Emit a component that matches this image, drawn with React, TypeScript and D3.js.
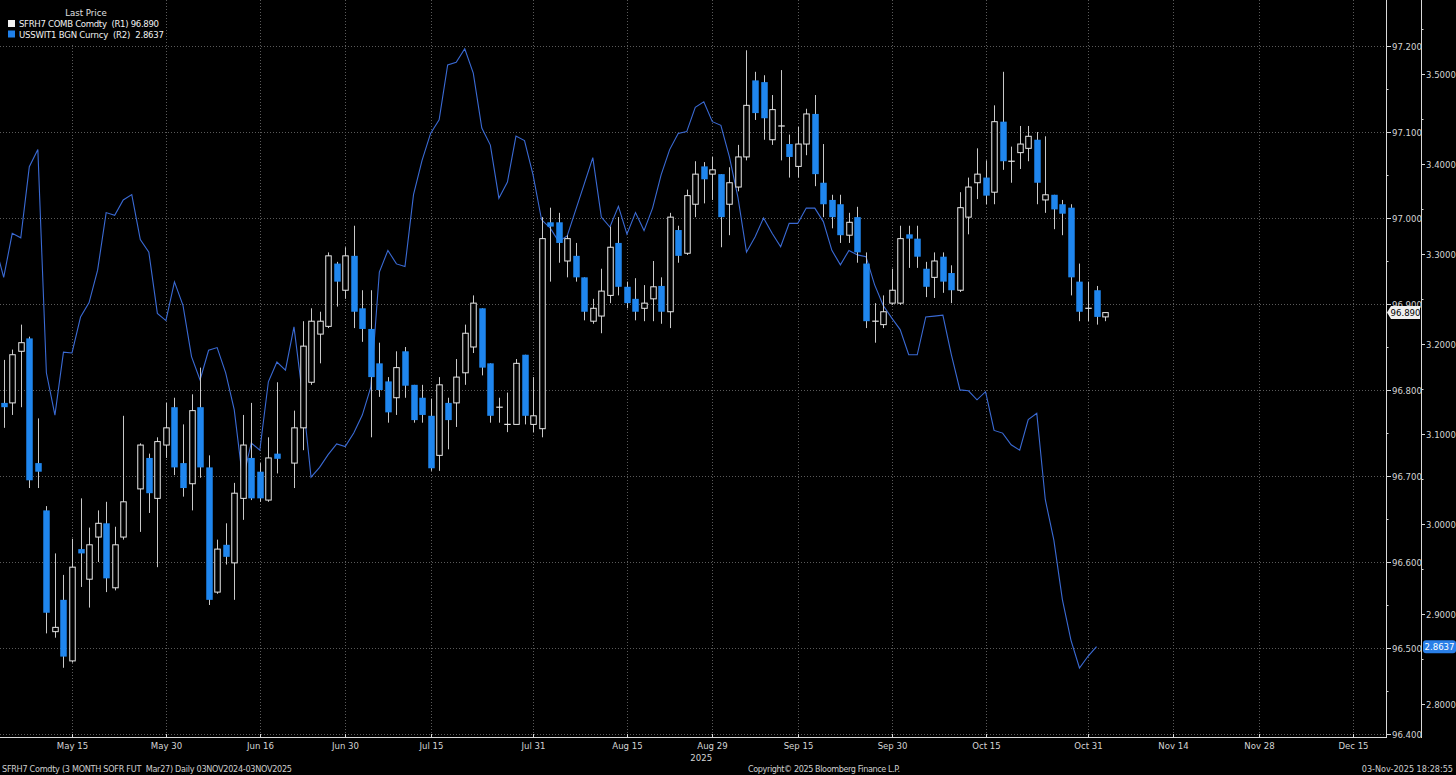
import React, { useEffect, useRef } from "react";
import * as d3 from "d3";

const W = 1456;
const H = 775;

// exchange holidays with no slot on the axis
const holidays = ["2025-07-04", "2025-09-01"];

const dateTicks = [
  "2025-05-15", "2025-05-30", "2025-06-16", "2025-06-30", "2025-07-15",
  "2025-07-31", "2025-08-15", "2025-08-29", "2025-09-15", "2025-09-30",
  "2025-10-15", "2025-10-31", "2025-11-14", "2025-11-28", "2025-12-15",
];
const dateTickLabels = [
  "May 15", "May 30", "Jun 16", "Jun 30", "Jul 15", "Jul 31", "Aug 15", "Aug 29",
  "Sep 15", "Sep 30", "Oct 15", "Oct 31", "Nov 14", "Nov 28", "Dec 15",
];
const r1Ticks = [96.4, 96.5, 96.6, 96.7, 96.8, 96.9, 97.0, 97.1, 97.2];
const r2Ticks = [2.8, 2.9, 3.0, 3.1, 3.2, 3.3, 3.4, 3.5];

// SFRH7 COMB Comdty daily bars: [date, open, high, low, close]
const sfrh7: [string, number, number, number, number][] = [
  ["2025-05-05", 96.785, 96.835, 96.756, 96.780],
  ["2025-05-06", 96.785, 96.847, 96.771, 96.841],
  ["2025-05-07", 96.845, 96.876, 96.780, 96.855],
  ["2025-05-08", 96.860, 96.862, 96.686, 96.695],
  ["2025-05-09", 96.715, 96.767, 96.686, 96.705],
  ["2025-05-12", 96.660, 96.665, 96.517, 96.541],
  ["2025-05-13", 96.519, 96.610, 96.512, 96.524],
  ["2025-05-14", 96.556, 96.585, 96.477, 96.490],
  ["2025-05-15", 96.485, 96.627, 96.483, 96.594],
  ["2025-05-16", 96.615, 96.674, 96.571, 96.610],
  ["2025-05-19", 96.580, 96.640, 96.547, 96.620],
  ["2025-05-20", 96.629, 96.660, 96.600, 96.645],
  ["2025-05-21", 96.645, 96.670, 96.565, 96.581],
  ["2025-05-22", 96.570, 96.641, 96.567, 96.620],
  ["2025-05-23", 96.629, 96.770, 96.626, 96.670],
  ["2025-05-27", 96.685, 96.738, 96.635, 96.736],
  ["2025-05-28", 96.721, 96.726, 96.657, 96.680],
  ["2025-05-29", 96.674, 96.745, 96.594, 96.740],
  ["2025-05-30", 96.736, 96.785, 96.721, 96.756],
  ["2025-06-02", 96.780, 96.791, 96.701, 96.710],
  ["2025-06-03", 96.715, 96.760, 96.676, 96.686],
  ["2025-06-04", 96.691, 96.795, 96.660, 96.776],
  ["2025-06-05", 96.780, 96.826, 96.698, 96.710],
  ["2025-06-06", 96.710, 96.724, 96.550, 96.556],
  ["2025-06-09", 96.565, 96.626, 96.563, 96.615],
  ["2025-06-10", 96.620, 96.645, 96.597, 96.606],
  ["2025-06-11", 96.599, 96.692, 96.556, 96.680],
  ["2025-06-12", 96.674, 96.771, 96.649, 96.736],
  ["2025-06-13", 96.721, 96.785, 96.672, 96.674],
  ["2025-06-16", 96.705, 96.715, 96.670, 96.674],
  ["2025-06-17", 96.672, 96.745, 96.670, 96.721],
  ["2025-06-18", 96.726, 96.809, 96.703, 96.720],
  ["2025-06-20", 96.715, 96.776, 96.686, 96.756],
  ["2025-06-23", 96.756, 96.880, 96.730, 96.851],
  ["2025-06-24", 96.809, 96.895, 96.806, 96.880],
  ["2025-06-25", 96.865, 96.891, 96.831, 96.880],
  ["2025-06-26", 96.874, 96.960, 96.872, 96.956],
  ["2025-06-27", 96.947, 96.949, 96.897, 96.926],
  ["2025-06-30", 96.916, 96.966, 96.906, 96.956],
  ["2025-07-01", 96.956, 96.991, 96.872, 96.891],
  ["2025-07-02", 96.895, 96.916, 96.856, 96.871],
  ["2025-07-03", 96.871, 96.916, 96.745, 96.815],
  ["2025-07-07", 96.831, 96.855, 96.792, 96.800],
  ["2025-07-08", 96.810, 96.815, 96.762, 96.774],
  ["2025-07-09", 96.791, 96.845, 96.771, 96.826],
  ["2025-07-10", 96.845, 96.850, 96.791, 96.805],
  ["2025-07-11", 96.806, 96.806, 96.762, 96.765],
  ["2025-07-14", 96.791, 96.806, 96.762, 96.771],
  ["2025-07-15", 96.770, 96.790, 96.706, 96.709],
  ["2025-07-16", 96.724, 96.815, 96.706, 96.806],
  ["2025-07-17", 96.785, 96.791, 96.731, 96.765],
  ["2025-07-18", 96.785, 96.836, 96.757, 96.815],
  ["2025-07-21", 96.820, 96.876, 96.806, 96.866],
  ["2025-07-22", 96.850, 96.910, 96.843, 96.901],
  ["2025-07-23", 96.895, 96.895, 96.817, 96.826],
  ["2025-07-24", 96.831, 96.831, 96.762, 96.770],
  ["2025-07-25", 96.780, 96.791, 96.762, 96.780],
  ["2025-07-28", 96.760, 96.797, 96.751, 96.760],
  ["2025-07-29", 96.760, 96.836, 96.760, 96.831],
  ["2025-07-30", 96.841, 96.841, 96.760, 96.770],
  ["2025-07-31", 96.760, 96.815, 96.751, 96.770],
  ["2025-08-01", 96.755, 97.001, 96.745, 96.976],
  ["2025-08-04", 96.995, 97.012, 96.926, 96.990],
  ["2025-08-05", 96.995, 97.006, 96.948, 96.971],
  ["2025-08-06", 96.950, 96.980, 96.931, 96.976],
  ["2025-08-07", 96.956, 96.971, 96.926, 96.931],
  ["2025-08-08", 96.931, 96.931, 96.881, 96.891],
  ["2025-08-11", 96.880, 96.906, 96.877, 96.895],
  ["2025-08-12", 96.886, 96.941, 96.866, 96.915],
  ["2025-08-13", 96.910, 96.990, 96.901, 96.966],
  ["2025-08-14", 96.971, 97.001, 96.910, 96.920],
  ["2025-08-15", 96.920, 96.926, 96.895, 96.901],
  ["2025-08-18", 96.906, 96.930, 96.881, 96.891],
  ["2025-08-19", 96.895, 96.922, 96.880, 96.901],
  ["2025-08-20", 96.906, 96.950, 96.880, 96.920],
  ["2025-08-21", 96.921, 96.931, 96.877, 96.891],
  ["2025-08-22", 96.891, 97.006, 96.872, 97.001],
  ["2025-08-25", 96.986, 96.991, 96.948, 96.956],
  ["2025-08-26", 96.959, 97.033, 96.957, 97.026],
  ["2025-08-27", 97.016, 97.066, 97.001, 97.051],
  ["2025-08-28", 97.060, 97.065, 97.017, 97.045],
  ["2025-08-29", 97.051, 97.071, 97.021, 97.056],
  ["2025-09-02", 97.051, 97.051, 96.966, 97.001],
  ["2025-09-03", 97.016, 97.059, 96.980, 97.041],
  ["2025-09-04", 97.036, 97.085, 97.031, 97.071],
  ["2025-09-05", 97.071, 97.195, 97.067, 97.131],
  ["2025-09-08", 97.160, 97.170, 97.114, 97.122],
  ["2025-09-09", 97.158, 97.166, 97.091, 97.116],
  ["2025-09-10", 97.091, 97.143, 97.085, 97.126],
  ["2025-09-11", 97.107, 97.172, 97.067, 97.107],
  ["2025-09-12", 97.086, 97.097, 97.047, 97.071],
  ["2025-09-15", 97.060, 97.106, 97.047, 97.086],
  ["2025-09-16", 97.086, 97.127, 97.073, 97.121],
  ["2025-09-17", 97.121, 97.143, 97.037, 97.051],
  ["2025-09-18", 97.041, 97.086, 97.001, 97.016],
  ["2025-09-19", 97.021, 97.027, 96.988, 97.001],
  ["2025-09-22", 97.016, 97.027, 96.971, 96.980],
  ["2025-09-23", 96.980, 97.006, 96.971, 96.995],
  ["2025-09-24", 97.001, 97.013, 96.948, 96.960],
  ["2025-09-25", 96.947, 96.960, 96.872, 96.880],
  ["2025-09-26", 96.880, 96.901, 96.855, 96.880],
  ["2025-09-29", 96.876, 96.910, 96.872, 96.891],
  ["2025-09-30", 96.901, 96.941, 96.899, 96.916],
  ["2025-10-01", 96.901, 96.991, 96.899, 96.976],
  ["2025-10-02", 96.981, 96.991, 96.942, 96.976],
  ["2025-10-03", 96.976, 96.991, 96.942, 96.955],
  ["2025-10-06", 96.941, 96.949, 96.908, 96.920],
  ["2025-10-07", 96.931, 96.960, 96.907, 96.950],
  ["2025-10-08", 96.955, 96.960, 96.913, 96.926],
  ["2025-10-09", 96.936, 96.945, 96.901, 96.916],
  ["2025-10-10", 96.916, 97.030, 96.914, 97.012],
  ["2025-10-13", 97.001, 97.047, 96.981, 97.036],
  ["2025-10-14", 97.041, 97.081, 97.022, 97.051],
  ["2025-10-15", 97.047, 97.067, 97.016, 97.026],
  ["2025-10-16", 97.030, 97.131, 97.016, 97.112],
  ["2025-10-17", 97.112, 97.170, 97.056, 97.066],
  ["2025-10-20", 97.066, 97.083, 97.041, 97.066],
  ["2025-10-21", 97.076, 97.107, 97.057, 97.086],
  ["2025-10-22", 97.081, 97.107, 97.066, 97.095],
  ["2025-10-23", 97.091, 97.100, 97.016, 97.041],
  ["2025-10-24", 97.021, 97.095, 97.006, 97.027],
  ["2025-10-27", 97.027, 97.027, 96.987, 97.010],
  ["2025-10-28", 97.016, 97.021, 96.980, 97.005],
  ["2025-10-29", 97.012, 97.016, 96.910, 96.931],
  ["2025-10-30", 96.926, 96.947, 96.880, 96.891],
  ["2025-10-31", 96.895, 96.926, 96.880, 96.895],
  ["2025-11-03", 96.916, 96.921, 96.876, 96.885],
  ["2025-11-04", 96.885, 96.890, 96.880, 96.890],
];

// USSWIT1 BGN Curncy daily: [date, value]
const usswit1: [string, number][] = [
  ["2025-05-02", 3.310], ["2025-05-05", 3.274], ["2025-05-06", 3.323], ["2025-05-07", 3.318],
  ["2025-05-08", 3.397], ["2025-05-09", 3.416], ["2025-05-12", 3.168], ["2025-05-13", 3.121],
  ["2025-05-14", 3.191], ["2025-05-15", 3.190], ["2025-05-16", 3.230], ["2025-05-19", 3.246],
  ["2025-05-20", 3.282], ["2025-05-21", 3.346], ["2025-05-22", 3.343], ["2025-05-23", 3.360],
  ["2025-05-26", 3.366], ["2025-05-27", 3.316], ["2025-05-28", 3.302], ["2025-05-29", 3.234],
  ["2025-05-30", 3.226], ["2025-06-02", 3.269], ["2025-06-03", 3.243], ["2025-06-04", 3.186],
  ["2025-06-05", 3.160], ["2025-06-06", 3.193], ["2025-06-09", 3.196], ["2025-06-10", 3.168],
  ["2025-06-11", 3.127], ["2025-06-12", 3.049], ["2025-06-13", 3.090], ["2025-06-16", 3.082],
  ["2025-06-17", 3.158], ["2025-06-18", 3.180], ["2025-06-19", 3.171], ["2025-06-20", 3.219],
  ["2025-06-23", 3.143], ["2025-06-24", 3.052], ["2025-06-25", 3.063], ["2025-06-26", 3.077],
  ["2025-06-27", 3.089], ["2025-06-30", 3.086], ["2025-07-01", 3.101], ["2025-07-02", 3.121],
  ["2025-07-03", 3.152], ["2025-07-07", 3.280], ["2025-07-08", 3.304], ["2025-07-09", 3.289],
  ["2025-07-10", 3.286], ["2025-07-11", 3.366], ["2025-07-14", 3.404], ["2025-07-15", 3.434],
  ["2025-07-16", 3.449], ["2025-07-17", 3.510], ["2025-07-18", 3.513], ["2025-07-21", 3.528],
  ["2025-07-22", 3.501], ["2025-07-23", 3.440], ["2025-07-24", 3.421], ["2025-07-25", 3.362],
  ["2025-07-28", 3.380], ["2025-07-29", 3.431], ["2025-07-30", 3.426], ["2025-07-31", 3.388],
  ["2025-08-01", 3.338], ["2025-08-04", 3.329], ["2025-08-05", 3.314], ["2025-08-06", 3.320],
  ["2025-08-07", 3.349], ["2025-08-08", 3.378], ["2025-08-11", 3.407], ["2025-08-12", 3.341],
  ["2025-08-13", 3.330], ["2025-08-14", 3.353], ["2025-08-15", 3.322], ["2025-08-18", 3.346],
  ["2025-08-19", 3.326], ["2025-08-20", 3.351], ["2025-08-21", 3.388], ["2025-08-22", 3.416],
  ["2025-08-25", 3.434], ["2025-08-26", 3.436], ["2025-08-27", 3.463], ["2025-08-28", 3.469],
  ["2025-08-29", 3.447], ["2025-09-02", 3.443], ["2025-09-03", 3.408], ["2025-09-04", 3.363],
  ["2025-09-05", 3.302], ["2025-09-08", 3.319], ["2025-09-09", 3.340], ["2025-09-10", 3.323],
  ["2025-09-11", 3.308], ["2025-09-12", 3.334], ["2025-09-15", 3.334], ["2025-09-16", 3.351],
  ["2025-09-17", 3.351], ["2025-09-18", 3.336], ["2025-09-19", 3.304], ["2025-09-22", 3.288],
  ["2025-09-23", 3.304], ["2025-09-24", 3.299], ["2025-09-25", 3.297], ["2025-09-26", 3.266],
  ["2025-09-29", 3.243], ["2025-09-30", 3.229], ["2025-10-01", 3.216], ["2025-10-02", 3.188],
  ["2025-10-03", 3.188], ["2025-10-06", 3.230], ["2025-10-07", 3.231], ["2025-10-08", 3.232],
  ["2025-10-09", 3.188], ["2025-10-10", 3.149], ["2025-10-13", 3.148], ["2025-10-14", 3.138],
  ["2025-10-15", 3.147], ["2025-10-16", 3.104], ["2025-10-17", 3.101], ["2025-10-20", 3.088],
  ["2025-10-21", 3.082], ["2025-10-22", 3.116], ["2025-10-23", 3.123], ["2025-10-24", 3.027],
  ["2025-10-27", 2.982], ["2025-10-28", 2.916], ["2025-10-29", 2.871], ["2025-10-30", 2.840],
  ["2025-10-31", 2.853], ["2025-11-03", 2.8637],
];

const FONT = "'DejaVu Sans Condensed', 'DejaVu Sans', sans-serif";

const Chart = () => {
  const svgRef = useRef<SVGSVGElement>(null);

  useEffect(() => {
    const svg = d3.select(svgRef.current);
    svg.selectAll("*").remove();

    const plotRight = 1386;
    const plotBottom = 737;

    // weekday slots, holidays removed
    const fmt = d3.utcFormat("%Y-%m-%d");
    const slots = d3.utcDay
      .range(new Date(Date.UTC(2025, 4, 1)), new Date(Date.UTC(2026, 0, 1)))
      .filter((d) => d.getUTCDay() !== 0 && d.getUTCDay() !== 6)
      .map(fmt)
      .filter((s) => !holidays.includes(s));
    const slotIndex = new Map(slots.map((s, i) => [s, i] as [string, number]));
    const ix = (s: string) => slotIndex.get(s) as number;

    const x = d3.scaleLinear().domain([ix("2025-05-15"), ix("2025-10-31")]).range([72, 1088]);
    const step = x(1) - x(0);
    const y1 = d3.scaleLinear().domain([96.4, 97.2]).range([734, 46]);
    const y2 = d3.scaleLinear().domain([2.8, 3.5]).range([704, 74]);

    svg.append("rect").attr("width", W).attr("height", H).attr("fill", "#000");

    svg.append("defs").append("clipPath").attr("id", "plotClip")
      .append("rect").attr("x", 0).attr("y", 0).attr("width", plotRight).attr("height", plotBottom);

    // dotted grid
    const grid = svg.append("g").attr("stroke", "#5a5a5a").attr("stroke-dasharray", "1,2").attr("stroke-width", 1);
    r1Ticks.forEach((v) => {
      const yy = Math.round(y1(v)) + 0.5;
      grid.append("line").attr("x1", 0).attr("x2", plotRight).attr("y1", yy).attr("y2", yy);
    });
    dateTicks.forEach((d) => {
      const xx = Math.round(x(ix(d))) + 0.5;
      if (xx < plotRight) grid.append("line").attr("x1", xx).attr("x2", xx).attr("y1", 0).attr("y2", plotBottom);
    });

    const plot = svg.append("g").attr("clip-path", "url(#plotClip)");

    // swap line (R2)
    const swapLine = d3.line<[string, number]>()
      .x((d) => x(ix(d[0])))
      .y((d) => y2(d[1]));
    plot.append("path")
      .datum(usswit1)
      .attr("fill", "none")
      .attr("stroke", "#3a6ad4")
      .attr("stroke-width", 1.1)
      .attr("d", swapLine);

    // candles (R1)
    const bw = step * 0.76;
    const candles = plot.append("g");
    sfrh7.forEach(([date, o, h, l, c]) => {
      const cx = Math.round(x(ix(date))) + 0.5;
      const up = c >= o;
      candles.append("line")
        .attr("x1", cx).attr("x2", cx)
        .attr("y1", y1(h)).attr("y2", y1(l))
        .attr("stroke", "#c8c8c8").attr("stroke-width", 1);
      const top = y1(Math.max(o, c));
      const bot = y1(Math.min(o, c));
      if (bot - top < 1.2) {
        candles.append("line")
          .attr("x1", cx - bw / 2).attr("x2", cx + bw / 2)
          .attr("y1", (top + bot) / 2).attr("y2", (top + bot) / 2)
          .attr("stroke", "#e8e8e8").attr("stroke-width", 1.2);
      } else if (up) {
        candles.append("rect")
          .attr("x", cx - bw / 2 + 0.5).attr("y", top)
          .attr("width", bw - 1).attr("height", bot - top)
          .attr("fill", "#000").attr("stroke", "#e8e8e8").attr("stroke-width", 1);
      } else {
        candles.append("rect")
          .attr("x", cx - bw / 2).attr("y", top)
          .attr("width", bw).attr("height", bot - top)
          .attr("fill", "#1f86ee");
      }
    });

    const txt = (g: any, xx: number, yy: number, s: string, size: number, fill: string, anchor = "start") =>
      g.append("text")
        .attr("x", xx).attr("y", yy)
        .attr("font-family", FONT).attr("font-size", size)
        .attr("fill", fill).attr("text-anchor", anchor)
        .style("white-space", "pre")
        .text(s);

    // bottom axis
    const axis = svg.append("g");
    axis.append("line").attr("x1", 0).attr("x2", plotRight).attr("y1", plotBottom + 0.5).attr("y2", plotBottom + 0.5)
      .attr("stroke", "#d8d8d8");
    dateTicks.forEach((d, i) => {
      const xx = Math.round(x(ix(d))) + 0.5;
      axis.append("line").attr("x1", xx).attr("x2", xx).attr("y1", plotBottom - 3).attr("y2", plotBottom)
        .attr("stroke", "#d8d8d8");
      txt(axis, xx, 749, dateTickLabels[i], 9.5, "#d4d4d4", "middle");
    });
    txt(axis, x(ix("2025-08-29")) - 22, 761, "2025", 9.5, "#d4d4d4", "start");

    // R1 axis
    axis.append("line").attr("x1", plotRight + 0.5).attr("x2", plotRight + 0.5).attr("y1", 0).attr("y2", plotBottom + 1)
      .attr("stroke", "#d8d8d8");
    r1Ticks.forEach((v, i) => {
      const yy = Math.round(y1(v)) + 0.5;
      axis.append("line").attr("x1", plotRight).attr("x2", plotRight + 5).attr("y1", yy).attr("y2", yy).attr("stroke", "#d8d8d8");
      txt(axis, plotRight + 6, yy + 3.5, v.toFixed(3), 9.5, "#d4d4d4");
      if (i < r1Ticks.length - 1) {
        const ym = Math.round(y1(v + 0.05)) + 0.5;
        axis.append("line").attr("x1", plotRight).attr("x2", plotRight + 2.5).attr("y1", ym).attr("y2", ym).attr("stroke", "#d8d8d8");
      }
    });

    // R2 axis
    const r2x = 1421;
    axis.append("line").attr("x1", r2x + 0.5).attr("x2", r2x + 0.5).attr("y1", 0).attr("y2", plotBottom + 1)
      .attr("stroke", "#d8d8d8");
    r2Ticks.forEach((v, i) => {
      const yy = Math.round(y2(v)) + 0.5;
      axis.append("line").attr("x1", r2x).attr("x2", r2x + 4).attr("y1", yy).attr("y2", yy).attr("stroke", "#d8d8d8");
      txt(axis, r2x + 5, yy + 3.5, v.toFixed(4), 9.5, "#d4d4d4");
      const ym = Math.round(y2(v + 0.05)) + 0.5;
      if (ym > 0) axis.append("line").attr("x1", r2x).attr("x2", r2x + 2.5).attr("y1", ym).attr("y2", ym).attr("stroke", "#d8d8d8");
    });

    // last value tags
    const lastClose = sfrh7[sfrh7.length - 1][4];
    const ly = y1(lastClose);
    axis.append("path")
      .attr("d", `M${plotRight + 1},${ly} L${plotRight + 5},${ly - 6.5} L${r2x - 1},${ly - 6.5} L${r2x - 1},${ly + 6.5} L${plotRight + 5},${ly + 6.5} Z`)
      .attr("fill", "#f0f0f0");
    txt(axis, (plotRight + r2x) / 2 + 2, ly + 3.5, lastClose.toFixed(3), 9.5, "#000", "middle");

    const lastSwap = usswit1[usswit1.length - 1][1];
    const sy = y2(lastSwap);
    axis.append("rect").attr("x", r2x + 2).attr("y", sy - 6.5).attr("width", W - r2x - 2).attr("height", 13)
      .attr("rx", 3).attr("fill", "#2a7fe8");
    txt(axis, (r2x + W) / 2 + 1, sy + 3.5, lastSwap.toFixed(4), 9.5, "#fff", "middle");

    // legend
    const lg = svg.append("g");
    lg.append("rect").attr("x", 0).attr("y", 0).attr("width", 166).attr("height", 44).attr("fill", "#000");
    txt(lg, 86, 16, "Last Price", 9.5, "#e0e0e0", "middle");
    lg.append("rect").attr("x", 8).attr("y", 20).attr("width", 7).attr("height", 7).attr("fill", "#f2f2f2");
    txt(lg, 19, 27, `SFRH7 COMB Comdty  (R1) ${lastClose.toFixed(3)}`, 9.5, "#f0f0f0").attr("textLength", 140);
    lg.append("rect").attr("x", 8).attr("y", 30.5).attr("width", 7).attr("height", 7).attr("fill", "#1f80ea");
    txt(lg, 19, 37.5, `USSWIT1 BGN Curncy  (R2)  ${lastSwap.toFixed(4)}`, 9.5, "#f0f0f0").attr("textLength", 145);

    // footer
    txt(svg, 2, 772, "SFRH7 Comdty (3 MONTH SOFR FUT  Mar27) Daily 03NOV2024-03NOV2025", 9, "#cfcfcf").attr("textLength", 290);
    txt(svg, 748, 772, "Copyright\u00a9 2025 Bloomberg Finance L.P.", 9, "#cfcfcf").attr("textLength", 152);
    txt(svg, 1453, 772, "03-Nov-2025 18:28:55", 9, "#cfcfcf", "end");
  }, []);

  return <svg ref={svgRef} width={W} height={H} style={{ display: "block" }} />;
};

export default function App() {
  return (
    <div style={{ position: "fixed", left: 0, top: 0, width: W, height: H, background: "#000" }}>
      <Chart />
    </div>
  );
}
